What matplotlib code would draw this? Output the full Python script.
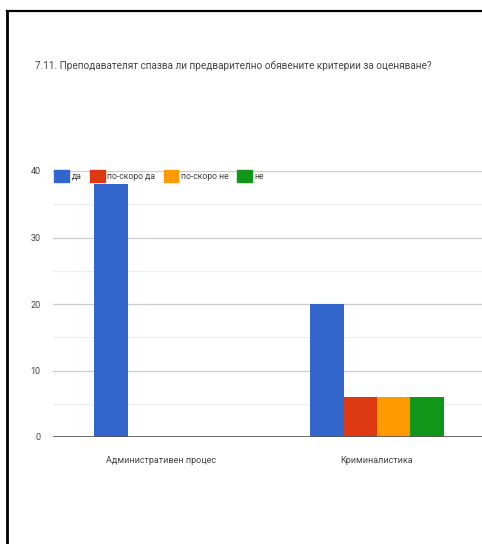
import matplotlib.pyplot as plt
from matplotlib.lines import Line2D
from matplotlib.patches import Patch
import numpy as np

# ------------------------------------------------------------------
# Data
# ------------------------------------------------------------------
title = "7.11. Преподавателят спазва ли предварително обявените критерии за оценяване?"
categories = ["Административен процес", "Криминалистика"]
series_names = ["да", "по-скоро да", "по-скоро не", "не"]
series_colors = ["#3366CC", "#DC3912", "#FF9900", "#109618"]
values_da = [38, 20]
values_po_skoro_da = [0, 6]
values_po_skoro_ne = [0, 6]
values_ne = [0, 6]
y_ticks = [0, 10, 20, 30, 40]

series_values = [values_da, values_po_skoro_da, values_po_skoro_ne, values_ne]

W, H = 482, 544
plt.rcParams["font.family"] = ["Roboto", "DejaVu Sans"]

fig = plt.figure(figsize=(W / 100, H / 100), dpi=100)
fig.patch.set_facecolor("white")

# axes in pixel terms: left 53, right 485, y=0 at 437, y=40 at 171
ax = fig.add_axes([53 / W, (H - 437) / H, (485 - 53) / W, (437 - 171) / H])

x = np.arange(len(categories))
bar_w = 0.154
n = len(series_names)
for i, (name, vals, col) in enumerate(zip(series_names, series_values, series_colors)):
    offs = (i - (n - 1) / 2) * bar_w
    ax.bar(x + offs, vals, width=bar_w, color=col, zorder=3, label=name)

ax.set_xlim(-0.5, 1.5)
ax.set_ylim(0, 40)
ax.set_yticks(y_ticks)
ax.set_yticks([5, 15, 25, 35], minor=True)
ax.set_yticklabels([str(v) for v in y_ticks], fontsize=6.5, color="#444444")
ax.set_xticks(x)
ax.set_xticklabels(categories, fontsize=6.5, color="#444444")
ax.tick_params(axis="both", which="both", length=0)
ax.tick_params(axis="y", pad=9)
ax.tick_params(axis="x", pad=14)

ax.grid(axis="y", which="major", color="#cccccc", lw=0.9, zorder=0)
ax.grid(axis="y", which="minor", color="#eeeeee", lw=0.9, zorder=0)
ax.axhline(0, color="#555555", lw=1.2, zorder=4)
for s in ax.spines.values():
    s.set_visible(False)

# title
fig.text(35 / W, 1 - 66 / H, title, fontsize=7.2, color="#444444",
         ha="left", va="center")

# legend along the top of the plot area
handles = [Patch(facecolor=c, edgecolor=c) for c in series_colors]
leg = fig.legend(handles, series_names, loc="center left",
                 bbox_to_anchor=(50 / W, 1 - 176 / H), ncol=4, frameon=False,
                 fontsize=6.2, handlelength=1.7, handleheight=1.7,
                 handletextpad=0.3, columnspacing=1.0, borderpad=0)
for t in leg.get_texts():
    t.set_color("#444444")

# black frame lines at top and left
fig.add_artist(Line2D([7 / W, 1], [1 - 11 / H, 1 - 11 / H], color="black", lw=1.6,
                      transform=fig.transFigure))
fig.add_artist(Line2D([7 / W, 7 / W], [0, 1 - 11 / H], color="black", lw=2.0,
                      transform=fig.transFigure))

fig.savefig("out.png", dpi=100)
